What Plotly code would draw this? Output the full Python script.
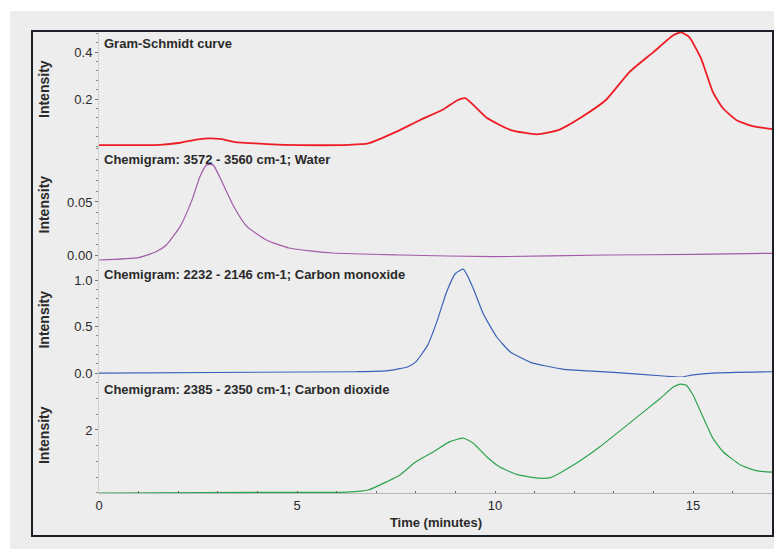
"""
TGA-IR 叠层谱图：Gram-Schmidt 曲线与三条 chemigram。
"""
import plotly.graph_objects as go

# ── 数据 ─────────────────────────────────────────────────────────────────
gs_time = [0, 1.0, 1.54, 2.05, 2.45, 2.8, 3.1, 3.4, 4.24, 5.1, 6.3, 6.8, 7.5,
           8.1, 8.7, 9.05, 9.25, 9.8, 10.4, 11.06, 11.6, 12.2, 12.8, 13.4, 14.0,
           14.5, 14.7, 14.9, 15.2, 15.5, 15.75, 16.1, 16.5, 17.0]
gs_val = [0.004, 0.004, 0.005, 0.014, 0.027, 0.033, 0.029, 0.018, 0.0085, 0.004,
          0.005, 0.011, 0.06, 0.11, 0.157, 0.195, 0.204, 0.119, 0.068, 0.05,
          0.068, 0.125, 0.196, 0.316, 0.40, 0.472, 0.484, 0.465, 0.374, 0.231,
          0.162, 0.11, 0.085, 0.072]

water_time = [0, 1.0, 1.44, 1.7, 2.05, 2.35, 2.55, 2.72, 2.88, 3.08, 3.4, 3.73,
              4.24, 4.8, 5.9, 7.6, 10.0, 12.8, 15.0, 17.0]
water_val = [-0.0047, -0.0025, 0.003, 0.0094, 0.027, 0.052, 0.074, 0.085, 0.085,
             0.071, 0.046, 0.027, 0.014, 0.0066, 0.0019, 0.0, -0.0016, 0.0,
             0.0005, 0.0016]

co_time = [0, 6.5, 7.3, 7.8, 8.0, 8.3, 8.53, 8.78, 9.0, 9.2, 9.45, 9.7, 10.04,
           10.38, 10.9, 11.7, 13.0, 14.25, 14.7, 15.0, 15.5, 17.0]
co_val = [0.0, 0.014, 0.025, 0.068, 0.12, 0.30, 0.55, 0.874, 1.07, 1.118, 0.91,
          0.64, 0.39, 0.23, 0.115, 0.043, 0.007, -0.032, -0.043, -0.02, 0.0, 0.014]

co2_time = [0, 4.3, 6.26, 6.8, 7.27, 7.6, 8.0, 8.45, 8.86, 9.2, 9.45, 9.79, 10.1,
            10.55, 11.1, 11.4, 11.98, 12.65, 13.5, 14.17, 14.5, 14.65, 14.82,
            15.0, 15.25, 15.5, 15.76, 16.2, 16.6, 17.0]
co2_val = [0.0, 0.02, 0.03, 0.095, 0.36, 0.57, 0.99, 1.31, 1.63, 1.74, 1.58, 1.15,
           0.84, 0.59, 0.47, 0.49, 0.89, 1.47, 2.32, 3.0, 3.36, 3.45, 3.43, 3.11,
           2.42, 1.74, 1.31, 0.89, 0.71, 0.66]

PANEL_TITLES = [
    "Gram-Schmidt curve",
    "Chemigram: 3572 - 3560 cm-1; Water",
    "Chemigram: 2232 - 2146 cm-1; Carbon monoxide",
    "Chemigram: 2385 - 2350 cm-1; Carbon dioxide",
]

# ── 样式 ──────────────────────────────────────────────────────────────────────
FONT = "Arial, 'Liberation Sans', sans-serif"
BG = "#ededed"
TEXT = "#2a2a2a"

series = [
    (gs_time, gs_val, "#ee1c25", 1.8),
    (water_time, water_val, "#a25ba9", 1.2),
    (co_time, co_val, "#3a62b8", 1.2),
    (co2_time, co2_val, "#2ea34f", 1.2),
]

fig = go.Figure()
for i, (t, v, color, w) in enumerate(series):
    fig.add_trace(go.Scatter(
        x=t, y=v, mode="lines",
        line=dict(color=color, width=w, shape="spline", smoothing=0.5),
        xaxis="x", yaxis="y" if i == 0 else f"y{i + 1}",
        showlegend=False,
    ))

# 各面板：domain、range、刻度
panels = [
    dict(domain=[0.749, 1.0], range=[-0.004, 0.49], tickvals=[0.2, 0.4],
         tickformat=".1f", minor=0.04),
    dict(domain=[0.5, 0.749], range=[-0.0066, 0.1019], tickvals=[0.0, 0.05],
         tickformat=".2f", minor=0.01),
    dict(domain=[0.251, 0.5], range=[-0.043, 1.194], tickvals=[0.0, 0.5, 1.0],
         tickformat=".1f", minor=0.1),
    dict(domain=[0.0, 0.251], range=[0, 3.68], tickvals=[2],
         tickformat="d", minor=0.5),
]

# 页面 body 自带 8px 边距，故图尺寸减 8
layout = dict(
    width=774, height=541,
    paper_bgcolor="#ffffff",
    plot_bgcolor=BG,
    font=dict(family=FONT, size=13, color=TEXT),
    margin=dict(l=91, r=9, t=23, b=56),
    showlegend=False,
    xaxis=dict(
        domain=[0, 1], range=[0, 17.02], anchor="y4",
        tickvals=[0, 5, 10, 15], showgrid=False, zeroline=False,
        showline=True, linecolor="#b5bcb5", linewidth=1,
        ticks="inside", ticklen=2, tickcolor="#666",
        minor=dict(dtick=1, ticks="inside", ticklen=2, tickcolor="#666"),
        tickfont=dict(size=13, color=TEXT),
        title=dict(text="<b>Time (minutes)</b>", font=dict(size=13), standoff=6),
    ),
)
for i, p in enumerate(panels):
    key = "yaxis" if i == 0 else f"yaxis{i + 1}"
    layout[key] = dict(
        domain=p["domain"], range=p["range"], anchor="x",
        tickvals=p["tickvals"], tickformat=p["tickformat"],
        showgrid=False, zeroline=False,
        showline=True, linecolor="#d2d2d2", linewidth=1,
        ticks="outside", ticklen=3, tickcolor="#777",
        minor=dict(dtick=p["minor"], ticks="outside", ticklen=2, tickcolor="#888"),
        tickfont=dict(size=13, color=TEXT),
    )

fig.update_layout(**layout)

# 面板标题与 Intensity 标签
for i, p in enumerate(panels):
    lo, hi = p["domain"]
    fig.add_annotation(
        text=f"<b>{PANEL_TITLES[i]}</b>", xref="paper", yref="paper",
        x=0.005, y=hi - 0.006, xanchor="left", yanchor="top",
        showarrow=False, font=dict(size=13, color=TEXT),
    )
    fig.add_annotation(
        text="<b>Intensity</b>", xref="paper", yref="paper",
        x=-0.0816, y=(lo + hi) / 2, textangle=-90,
        xanchor="center", yanchor="middle",
        showarrow=False, font=dict(size=14, color=TEXT),
    )

# 外层灰底与黑框
fig.add_shape(type="rect", xref="paper", yref="paper", layer="below",
              x0=-0.132, x1=1.02, y0=-0.13, y1=1.0433,
              fillcolor=BG, line=dict(width=0))
fig.add_shape(type="rect", xref="paper", yref="paper", layer="above",
              x0=-0.0994, x1=1.0, y0=-0.093, y1=1.0,
              line=dict(color="#1b2029", width=2))

fig.write_html("out.html")
